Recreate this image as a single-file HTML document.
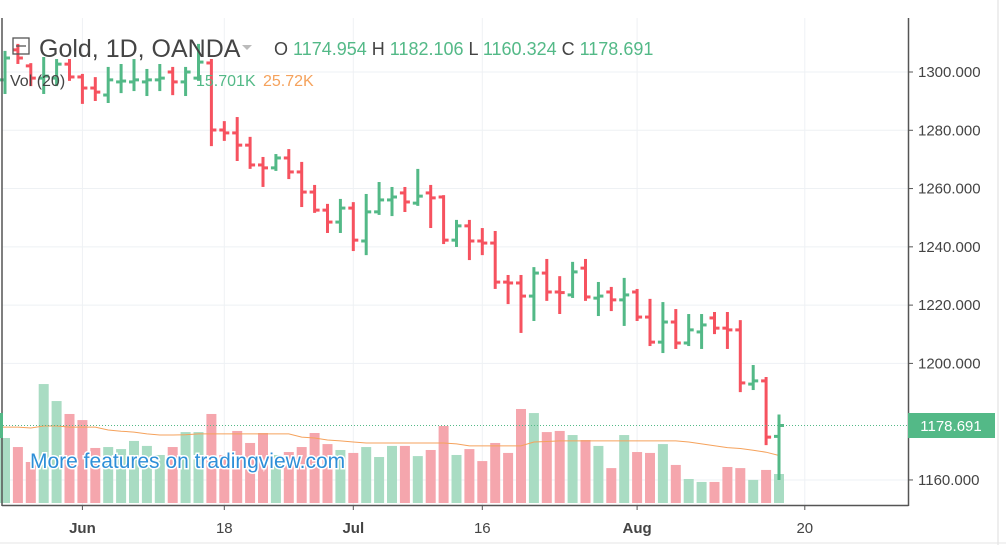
<!DOCTYPE html>
<html><head><meta charset="utf-8">
<style>
html,body{margin:0;padding:0;background:#fff;}
body{width:1006px;height:545px;overflow:hidden;font-family:"Liberation Sans",sans-serif;}
svg text{font-family:"Liberation Sans",sans-serif;}
</style></head>
<body>
<svg id="chart" width="1006" height="545" viewBox="0 0 1006 545" xmlns="http://www.w3.org/2000/svg">
  <rect x="0" y="0" width="1006" height="545" fill="#fff"/>
  <g id="grid"></g>
  <g id="vol"></g>
  <path id="volma" fill="none" stroke="#f5a25c" stroke-width="1"/>
  <g id="bars"></g>
  <line x1="0" x2="908" y1="425.5" y2="425.5" stroke="#53b987" stroke-width="1" stroke-dasharray="1,2"/>
  <line x1="2" y1="18" x2="2" y2="506" stroke="#555" stroke-width="1.5"/>
  <line x1="908.5" y1="18" x2="908.5" y2="506" stroke="#555" stroke-width="1.5"/>
  <line x1="2" y1="505.5" x2="908.5" y2="505.5" stroke="#555" stroke-width="1.5"/>
  <line x1="998" y1="0" x2="998" y2="545" stroke="#ddd" stroke-width="1"/>
  <line x1="0" y1="543" x2="1006" y2="543" stroke="#e6e6e6" stroke-width="1"/>
  <g id="yaxis"></g>
  <g id="xaxis"></g>
  <rect x="908" y="413" width="87" height="25" fill="#53b987"/>
  <text x="951" y="431" font-size="15" fill="#fff" text-anchor="middle">1178.691</text>
  <rect x="0" y="413" width="3" height="25" fill="#53b987"/>
  <g>
    <rect x="13" y="38" width="16" height="16" fill="none" stroke="#555" stroke-width="1.3"/>
    <line x1="16" y1="46" x2="26" y2="46" stroke="#555" stroke-width="1.3"/>
    <text x="39" y="57" font-size="25" fill="#444">Gold, 1D, OANDA</text>
    <path d="M242 45 l10 0 l-5 5 z" fill="#bbb"/>
    <text x="274" y="55" font-size="18"><tspan fill="#444">O</tspan><tspan fill="#53b987"> 1174.954 </tspan><tspan fill="#444"> H</tspan><tspan fill="#53b987"> 1182.106 </tspan><tspan fill="#444"> L</tspan><tspan fill="#53b987"> 1160.324 </tspan><tspan fill="#444"> C</tspan><tspan fill="#53b987"> 1178.691</tspan></text>
    <text x="10" y="86" font-size="16" fill="#444">Vol (20)</text>
    <text x="196" y="86" font-size="16" fill="#53b987">15.701K</text>
    <text x="263" y="86" font-size="16" fill="#f5a25c">25.72K</text>
  </g>
  <text x="30" y="468" font-size="21" fill="#2e8fd8" stroke="#fff" stroke-width="3" paint-order="stroke">More features on tradingview.com</text>
</svg>
<script>
const opens=[1297.3,1307.6,1302.1,1297.9,1297.9,1302.7,1298.3,1294.5,1292.1,1296.6,1296.6,1296.6,1297.3,1300.0,1296.6,1297.9,1303.1,1280.1,1279.1,1274.9,1268.1,1267.1,1270.5,1265.7,1258.8,1252.6,1248.5,1253.3,1242.0,1252.0,1256.1,1258.5,1255.0,1258.5,1257.1,1242.3,1247.2,1242.0,1241.3,1227.9,1227.6,1223.1,1231.0,1224.5,1223.5,1232.7,1222.4,1224.5,1221.8,1224.5,1215.9,1207.3,1214.2,1207.0,1210.8,1215.6,1212.1,1211.5,1192.9,1194.0,1174.954];
const highs=[1306.9,1309.3,1302.7,1304.8,1304.1,1304.1,1299.0,1297.9,1301.4,1302.4,1304.1,1300.7,1302.4,1301.4,1301.4,1309.3,1304.1,1282.8,1284.2,1277.4,1270.5,1271.5,1273.2,1268.8,1260.9,1254.4,1256.1,1255.0,1257.8,1261.9,1260.2,1260.2,1266.4,1260.9,1257.4,1248.9,1248.9,1246.1,1245.1,1230.0,1230.0,1232.7,1235.5,1229.6,1234.5,1235.5,1227.6,1225.9,1229.0,1225.2,1221.8,1220.7,1218.3,1216.6,1216.6,1217.3,1217.3,1214.5,1199.1,1195.0,1182.106];
const lows=[1292.8,1303.1,1295.5,1292.8,1295.5,1297.3,1289.4,1290.4,1289.7,1293.1,1293.8,1292.1,1293.8,1292.4,1292.1,1297.3,1274.9,1276.7,1269.8,1267.1,1260.9,1266.4,1263.6,1254.0,1252.0,1245.1,1245.1,1238.9,1237.5,1251.3,1250.9,1252.3,1254.4,1246.8,1241.3,1240.3,1235.8,1237.5,1225.9,1220.7,1210.8,1214.9,1221.8,1217.3,1222.8,1221.8,1216.6,1218.3,1213.2,1214.9,1206.3,1203.9,1205.3,1206.3,1205.3,1210.4,1205.3,1190.5,1191.2,1172.3,1160.324];
const closes=[1304.8,1304.8,1297.9,1298.6,1302.7,1298.3,1294.5,1293.1,1297.3,1296.9,1297.3,1297.3,1297.9,1296.6,1300.0,1303.4,1280.1,1279.1,1274.9,1268.1,1267.1,1270.5,1265.7,1258.8,1252.6,1248.5,1253.3,1242.3,1252.0,1256.1,1257.1,1255.4,1257.4,1256.8,1242.3,1247.2,1242.0,1241.3,1227.9,1227.6,1223.1,1231.0,1224.5,1224.3,1231.4,1222.8,1223.1,1221.8,1223.5,1215.9,1207.3,1214.2,1207.0,1211.5,1213.2,1212.1,1211.5,1193.3,1194.0,1174.7,1178.691];
const volumes=[35.2,30.3,22.2,64.4,55.2,48.2,44.9,29.8,30.3,29.2,33.6,30.9,26.0,30.3,38.4,38.4,48.2,26.0,39.0,32.5,37.9,26.0,27.6,30.3,37.9,31.9,28.7,27.1,30.3,24.9,30.9,30.9,25.4,28.7,41.7,26.0,29.2,22.7,32.5,27.1,50.9,48.7,38.4,39.0,36.8,34.1,30.9,18.9,36.8,27.6,27.1,31.9,20.6,13.0,11.4,11.4,19.5,18.9,12.5,17.9,15.701];
const volumeMA=[41.1,41.1,40.6,41.7,41.7,41.1,41.1,41.1,39.5,38.9,38.4,37.4,36.8,36.8,37.0,37.4,37.4,37.4,37.4,37.4,37.4,37.4,37.4,35.7,35.2,34.1,33.6,33.0,32.5,32.5,32.5,32.5,32.5,32.5,32.5,32.0,30.9,30.9,30.9,30.9,30.9,33.0,33.3,33.6,33.6,33.6,33.6,33.6,33.6,33.6,33.6,33.6,33.6,33.0,32.0,31.0,30.0,29.5,28.6,27.5,25.72];
const priceTicks=[1300,1280,1260,1240,1220,1200,1160];
const dateTickIdx=[6,17,27,37,49,62];
const dateTickLabels=["Jun","18","Jul","16","Aug","20"];
const dateTickBold=[true,false,true,false,true,false];

const NS="http://www.w3.org/2000/svg";
const X0=5, STEP=12.9;
function xScale(i){return X0+STEP*i;}
function yScale(p){return 72+(1300-p)*2.914;}
const VBASE=503, VPX=1.847;
function vScale(v){return VBASE-v*VPX;}
function mk(tag,attrs,parent){const e=document.createElementNS(NS,tag);for(const k in attrs)e.setAttribute(k,attrs[k]);parent.appendChild(e);return e;}

const grid=document.getElementById('grid');
priceTicks.forEach(p=>{const l=mk('line',{x1:2,x2:908,y1:yScale(p),y2:yScale(p),stroke:'#eef1f4','stroke-width':1},grid);

});
dateTickIdx.forEach(i=>{const l=mk('line',{x1:xScale(i),x2:xScale(i),y1:18,y2:505,stroke:'#eef1f4','stroke-width':1},grid);

});

const yax=document.getElementById('yaxis');
priceTicks.forEach(p=>{const y=yScale(p);
mk('line',{x1:908,x2:913,y1:y,y2:y,stroke:'#555','stroke-width':1},yax);
const t=mk('text',{x:918,y:y+5,'font-size':15,fill:'#444'},yax);t.textContent=p.toFixed(3);

});

const xax=document.getElementById('xaxis');
dateTickIdx.forEach((i,k)=>{const x=xScale(i);
mk('line',{x1:x,x2:x,y1:505,y2:510,stroke:'#555','stroke-width':1},xax);
const t=mk('text',{x:x,y:533,'font-size':15,fill:'#444','text-anchor':'middle','font-weight':dateTickBold[k]?'bold':'normal'},xax);t.textContent=dateTickLabels[k];

});

const vol=document.getElementById('vol');
volumes.forEach((v,i)=>{const up=closes[i]>=opens[i];const y=vScale(v);
const r=mk('rect',{x:xScale(i)-5,y:y,width:10,height:VBASE-y,fill:up?'#a9dcc3':'#f5a6ad'},vol);

});

let d='';volumeMA.forEach((v,i)=>{d+=(i?'L':'M')+xScale(i).toFixed(1)+' '+vScale(v).toFixed(1);});
document.getElementById('volma').setAttribute('d','M0 '+vScale(volumeMA[0]).toFixed(1)+d.replace(/^M/,'L'));

const bars=document.getElementById('bars');
opens.forEach((o,i)=>{const up=closes[i]>=o;const c=up?'#53b987':'#f6525f';const x=xScale(i);
const g=mk('g',{stroke:c,'stroke-width':3},bars);


mk('line',{x1:x,x2:x,y1:yScale(highs[i])-1,y2:yScale(lows[i])+1},g);
mk('line',{x1:x-5,x2:x,y1:yScale(o),y2:yScale(o)},g);
mk('line',{x1:x,x2:x+5,y1:yScale(closes[i]),y2:yScale(closes[i])},g);});
</script>
</body></html>
